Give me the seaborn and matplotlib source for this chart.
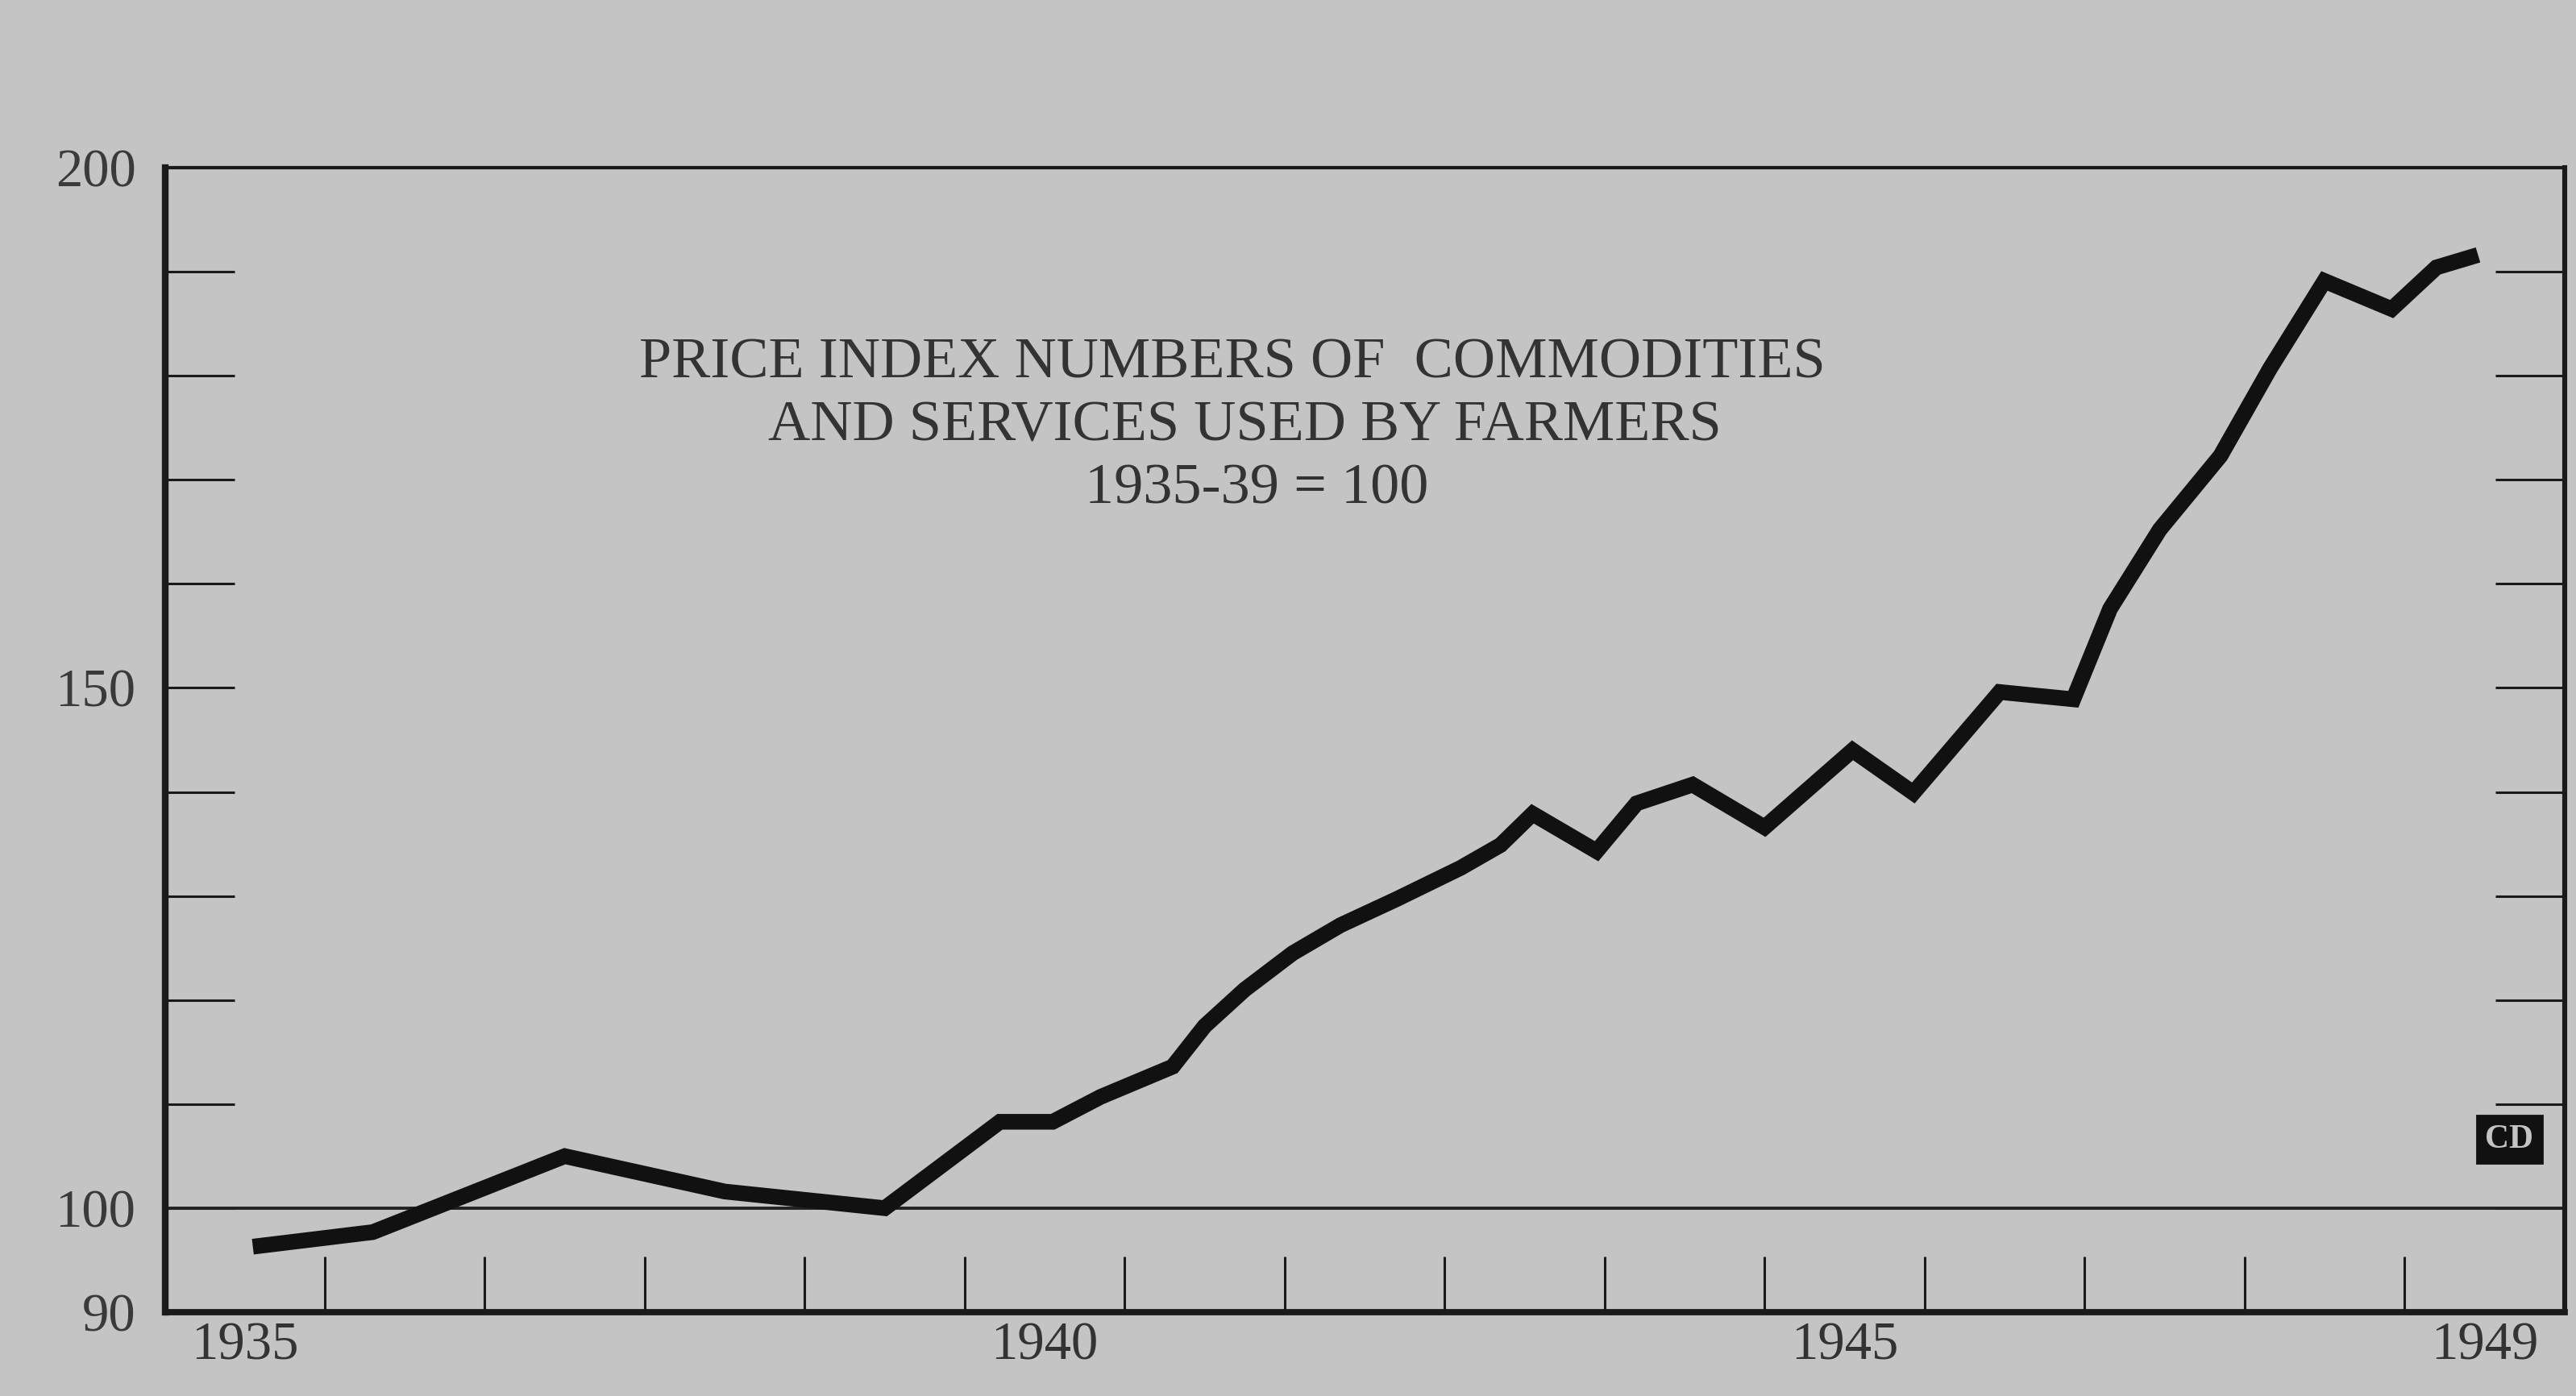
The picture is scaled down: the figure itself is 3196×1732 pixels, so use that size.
import numpy as np
import pandas as pd
import matplotlib
matplotlib.use("Agg")
import matplotlib.pyplot as plt
import seaborn as sns

# Prices paid by farmers, index 1935-39 = 100
years = [1935.55, 1936.3, 1937.5, 1938.5, 1939.5, 1940.22, 1940.55, 1940.85,
         1941.3, 1941.5, 1941.75, 1942.05, 1942.35, 1942.7, 1943.1, 1943.35,
         1943.55, 1943.95, 1944.2, 1944.55, 1945.0, 1945.55, 1945.93, 1946.47,
         1946.93, 1947.16, 1947.47, 1947.85, 1948.16, 1948.5, 1948.92, 1949.2,
         1949.46]
index = [96.3, 97.7, 105.0, 101.6, 100.0, 108.3, 108.3, 110.7,
         113.6, 117.5, 121.0, 124.5, 127.2, 129.7, 132.7, 134.9,
         137.9, 134.3, 138.9, 140.7, 136.6, 144.0, 139.9, 149.6,
         148.9, 157.6, 165.2, 172.3, 180.7, 189.1, 186.4, 190.4,
         191.6]

year_ticks = list(range(1936, 1950))
label_years = [1935, 1940, 1945, 1949]
y_ticks = list(range(90, 201, 10))
y_labelled = [90, 100, 150, 200]
title_lines = ["PRICE INDEX NUMBERS OF  COMMODITIES",
               "AND SERVICES USED BY FARMERS",
               "1935-39 = 100"]

paper = "#c4c4c4"
ink = "#111111"

sns.set_theme(style="white")
plt.rcParams["font.family"] = ["Liberation Serif", "DejaVu Serif"]

df = pd.DataFrame({"year": years, "index": index})

fig = plt.figure(figsize=(15.98, 8.66), dpi=200, facecolor=paper)
ax = fig.add_axes([0.064, 0.06, 0.9315, 0.82])
ax.set_facecolor(paper)

sns.lineplot(data=df, x="year", y="index", ax=ax, color=ink,
             linewidth=7, solid_joinstyle="miter", solid_capstyle="butt")

ax.axhline(100, color="#222222", linewidth=1.4, zorder=1)

ax.set_xlim(1935, 1950)
ax.set_ylim(90, 200)
ax.set_xlabel("")
ax.set_ylabel("")

# frame
for side, lw in {"left": 3.0, "bottom": 2.8, "right": 2.2, "top": 1.5}.items():
    ax.spines[side].set_visible(True)
    ax.spines[side].set_color("#1a1a1a")
    ax.spines[side].set_linewidth(lw)

# year boundaries as inward ticks, year labels centred in the year
ax.set_xticks(year_ticks)
ax.set_xticklabels([])
ax.set_xticks([y + 0.5 for y in label_years], minor=True)
ax.set_xticklabels([str(y) for y in label_years], minor=True)
ax.tick_params(axis="x", which="major", direction="in", length=25, width=1.1,
               color="#1a1a1a", bottom=True, top=False)
ax.tick_params(axis="x", which="minor", length=0, pad=4, labelsize=24,
               labelcolor="#333333")

ax.set_yticks(y_ticks)
ax.set_yticklabels([str(v) if v in y_labelled else "" for v in y_ticks])
ax.tick_params(axis="y", direction="in", length=31, width=1.1, color="#1a1a1a",
               left=True, right=True, pad=13, labelsize=24,
               labelcolor="#3a3a3a")

for i, line in enumerate(title_lines):
    ax.text(0.445 + 0.005 * i, 0.829 - 0.055 * i, line, transform=ax.transAxes,
            ha="center", va="center", fontsize=26, color="#333333")

# newspaper service badge
ax.text(0.977, 0.151, "CD", transform=ax.transAxes, ha="center", va="center",
        fontsize=15, fontweight="bold", color=paper,
        bbox=dict(boxstyle="square,pad=0.25", facecolor=ink, edgecolor=ink))

fig.savefig("out.png", dpi=200, facecolor=paper)
